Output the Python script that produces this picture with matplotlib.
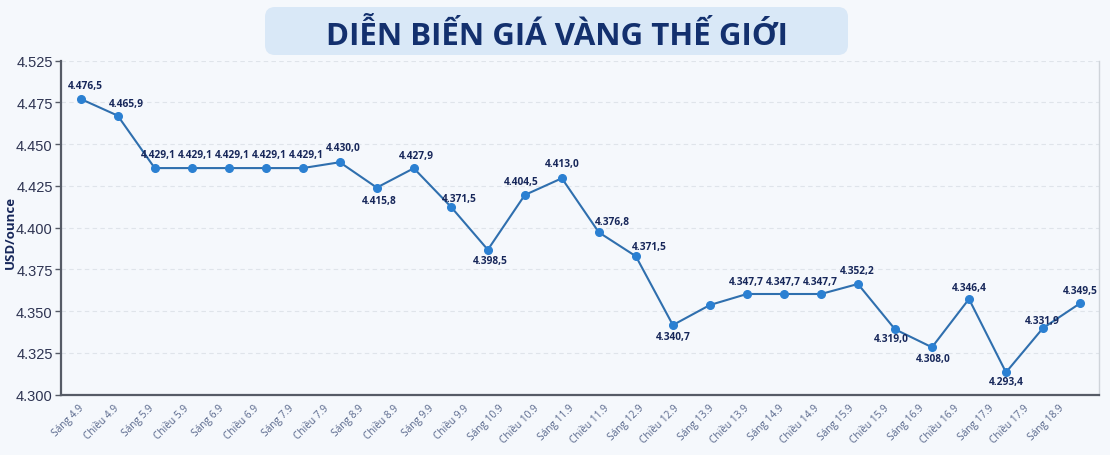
import matplotlib
matplotlib.use("Agg")
import matplotlib.pyplot as plt
from matplotlib.patches import FancyBboxPatch
from matplotlib.transforms import IdentityTransform

plt.rcParams['font.family'] = ['Open Sans', 'DejaVu Sans']

# Data (point heights as drawn, labels as printed)
prices = [4477.1, 4467.1, 4435.7, 4435.7, 4435.7, 4435.7, 4435.7, 4439.2,
          4424.0, 4435.6, 4412.6, 4386.8, 4419.6, 4429.6, 4397.2, 4382.9,
          4341.7, 4353.7, 4360.3, 4360.3, 4360.3, 4366.3, 4339.2, 4328.4,
          4357.3, 4313.4, 4339.9, 4354.7]
price_labels = ["4.476,5", "4.465,9", "4.429,1", "4.429,1", "4.429,1", "4.429,1",
                "4.429,1", "4.430,0", "4.415,8", "4.427,9", "4.371,5", "4.398,5",
                "4.404,5", "4.413,0", "4.376,8", "4.371,5", "4.340,7", "",
                "4.347,7", "4.347,7", "4.347,7", "4.352,2", "4.319,0", "4.308,0",
                "4.346,4", "4.293,4", "4.331,9", "4.349,5"]
sessions = ["Sáng 4.9", "Chiều 4.9", "Sáng 5.9", "Chiều 5.9", "Sáng 6.9", "Chiều 6.9",
            "Sáng 7.9", "Chiều 7.9", "Sáng 8.9", "Chiều 8.9", "Sáng 9.9", "Chiều 9.9",
            "Sáng 10.9", "Chiều 10.9", "Sáng 11.9", "Chiều 11.9", "Sáng 12.9", "Chiều 12.9",
            "Sáng 13.9", "Chiều 13.9", "Sáng 14.9", "Chiều 14.9", "Sáng 15.9", "Chiều 15.9",
            "Sáng 16.9", "Chiều 16.9", "Sáng 17.9", "Chiều 17.9", "Sáng 18.9"]
yticks = [4300, 4325, 4350, 4375, 4400, 4425, 4450, 4475, 4500]
ytick_labels = ["4.300", "4.325", "4.350", "4.375", "4.400", "4.425", "4.450", "4.475", "4.525"]

# label offsets in pixels (dx right, dy down)
label_offsets = [(5, -13), (9, -12), (4, -14), (4, -14), (4, -14), (4, -14), (4, -14),
                 (3, -15), (2, 13), (3, -13), (9, -8), (2, 11), (-4, -13), (0, -15),
                 (14, -11), (13, -10), (0, 11), (0, 0), (-1, -12), (-1, -12), (-1, -12),
                 (-1, -13), (-4, 9), (1, 11), (0, -12), (0, 9), (-1, -8), (0, -13)]

bg = '#f5f8fc'
navy = '#17275a'

fig = plt.figure(figsize=(11.1, 4.56), dpi=100, facecolor=bg)
ax = fig.add_axes([61 / 1110, 1 - 395.7 / 456, 1038 / 1110, 334 / 456])
ax.set_facecolor(bg)

x = list(range(len(prices)))
ax.plot(x, prices, color='#2f6fae', lw=1.5, zorder=3)
ax.plot(x, prices, 'o', color='#2b80d2', ms=5.5, zorder=4)

for i, (v, t) in enumerate(zip(prices, price_labels)):
    if not t:
        continue
    dx, dy = label_offsets[i]
    ax.annotate(t, (i, v), xytext=(dx * 0.72, -dy * 0.72), textcoords='offset points',
                ha='center', va='center', fontsize=7.3, fontweight='bold', color=navy,
                zorder=5)

ax.set_xlim(-0.532, 27.513)
ax.set_ylim(4300, 4500)
ax.set_yticks(yticks)
ax.set_yticklabels(ytick_labels, family=['Liberation Sans', 'DejaVu Sans'],
                   fontsize=10.5, color='#2e3452')
ax.tick_params(axis='y', length=4, width=1, color='#555a66', pad=2)
ax.set_xticks([])
ax.grid(axis='y', color='#dfe4ea', lw=0.8, ls=(0, (4, 3)))
ax.set_axisbelow(True)

for s in ['left', 'bottom']:
    ax.spines[s].set_color('#565b66')
    ax.spines[s].set_linewidth(1.6)
ax.spines['top'].set_visible(False)
ax.spines['right'].set_color('#cfd4da')
ax.spines['right'].set_linewidth(1.0)

ax.set_ylabel("USD/ounce", fontsize=9.5, fontweight='bold', color=navy, va='center')
ax.yaxis.set_label_coords((10 - 61) / 1038, 0.49)

# session labels on their own axis
ax2 = ax.twiny()
ax2.set_xlim(-0.6, 29.057)
ax2.xaxis.tick_bottom()
ax2.set_xticks(range(len(sessions)))
ax2.set_xticklabels(sessions, fontsize=7.3, color='#56658a')
ax2.tick_params(axis='x', length=0, pad=8)
plt.setp(ax2.get_xticklabels(), rotation=45, ha='right', va='center', rotation_mode='anchor')
for s in ax2.spines.values():
    s.set_visible(False)

# title box
box = FancyBboxPatch((265, 456 - 56), 583, 48, boxstyle='round,pad=0,rounding_size=10',
                     transform=IdentityTransform(), fc='#d9e8f7', ec='none')
fig.patches.append(box)
fig.text(556.5 / 1110, 1 - 45 / 456, "DIỄN BIẾN GIÁ VÀNG THẾ GIỚI", ha='center', va='baseline',
         fontsize=22.5, fontweight='bold', color='#13306e')

fig.savefig("out.png", dpi=100, facecolor=bg)
